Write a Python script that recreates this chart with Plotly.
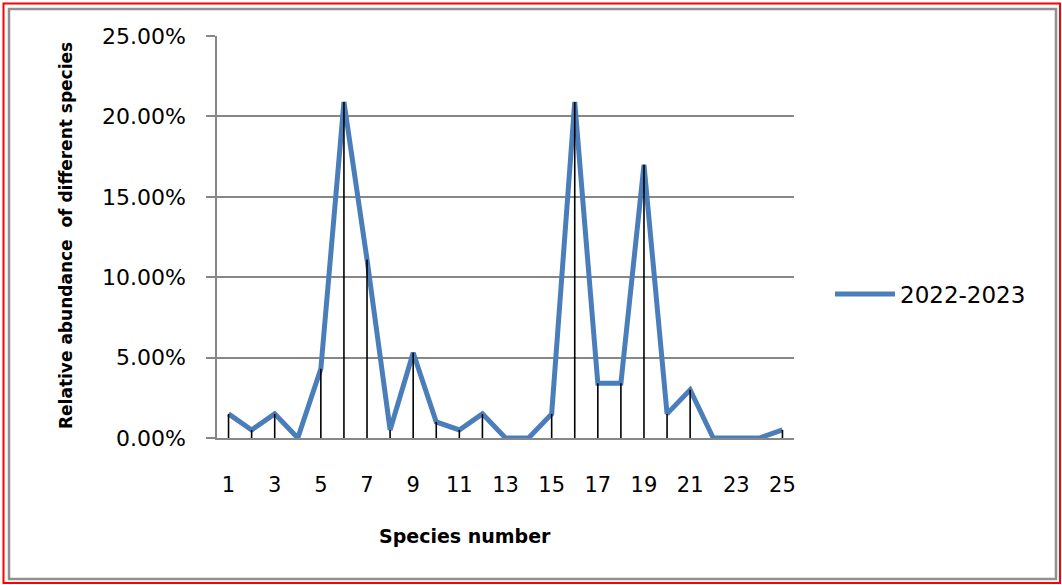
import plotly.graph_objects as go

species = list(range(1, 26))
abundance = [0.015, 0.005, 0.015, 0.000, 0.043, 0.209, 0.111, 0.005, 0.053, 0.010,
             0.005, 0.015, 0.000, 0.000, 0.015, 0.209, 0.034, 0.034, 0.170, 0.015,
             0.030, 0.000, 0.000, 0.000, 0.005]
series_name = "2022-2023"
x_ticks = list(range(1, 26, 2))
y_ticks = [0, 0.05, 0.10, 0.15, 0.20, 0.25]

W, H = 1062, 585
L, R, T, B = 217, 794, 36, 438

def px(x):
    return (x - L) / (R - L)

def py(y):
    return (B - y) / (B - T)

fig = go.Figure()
fig.add_trace(go.Scatter(
    x=species, y=abundance, mode="lines", name=series_name,
    line=dict(color="#4A7EBB", width=5), showlegend=True,
))
# drop lines
dx, dy = [], []
for s, v in zip(species, abundance):
    dx += [s, s, None]
    dy += [0, v, None]
fig.add_trace(go.Scatter(
    x=dx, y=dy, mode="lines", line=dict(color="black", width=1.6),
    showlegend=False, hoverinfo="skip",
))

grid = "#878787"
fig.update_xaxes(
    range=[0.5, 25.5], tickvals=x_ticks, ticktext=[str(t) for t in x_ticks],
    showgrid=False, showline=True, linecolor=grid, linewidth=1.5,
    ticks="", ticklabelstandoff=27, zeroline=False,
    tickfont=dict(family="DejaVu Sans", size=21, color="black"),
)
fig.update_yaxes(
    range=[0, 0.25], tickvals=y_ticks, tickformat=".2%",
    showgrid=True, gridcolor=grid, gridwidth=1.5,
    showline=True, linecolor=grid, linewidth=1.5,
    ticks="outside", ticklen=9, tickcolor=grid, tickwidth=1.5,
    ticklabelstandoff=16, zeroline=False,
    tickfont=dict(family="DejaVu Sans", size=22, color="black"),
)

shapes = [
    dict(type="rect", xref="paper", yref="paper",
         x0=px(3.5), x1=px(1060), y0=py(3.5), y1=py(583),
         line=dict(color="#FF0000", width=2)),
    dict(type="rect", xref="paper", yref="paper",
         x0=px(9), x1=px(1056), y0=py(9), y1=py(579),
         line=dict(color="#909090", width=2.5)),
]

annotations = [
    dict(text="Relative abundance  of different species", xref="paper", yref="paper",
         x=px(66), y=py(236), textangle=-90, showarrow=False,
         xanchor="center", yanchor="middle",
         font=dict(family="DejaVu Sans", size=17, color="black", weight="bold")),
    dict(text="Species number", xref="paper", yref="paper",
         x=px(465), y=py(536), showarrow=False, xanchor="center", yanchor="middle",
         font=dict(family="DejaVu Sans", size=19, color="black", weight="bold")),
]

fig.update_layout(
    width=W, height=H,
    margin=dict(l=L, r=W - R, t=T, b=H - B, pad=0),
    paper_bgcolor="white", plot_bgcolor="white",
    shapes=shapes, annotations=annotations,
    showlegend=True,
    legend=dict(x=px(830), y=py(294), xanchor="left", yanchor="middle",
                font=dict(family="DejaVu Sans", size=23, color="black"),
                bgcolor="rgba(0,0,0,0)", itemwidth=60),
)

fig.write_html("out.html", config={"displayModeBar": False},
               post_script="document.body.style.margin='0';document.body.style.overflow='hidden';")
